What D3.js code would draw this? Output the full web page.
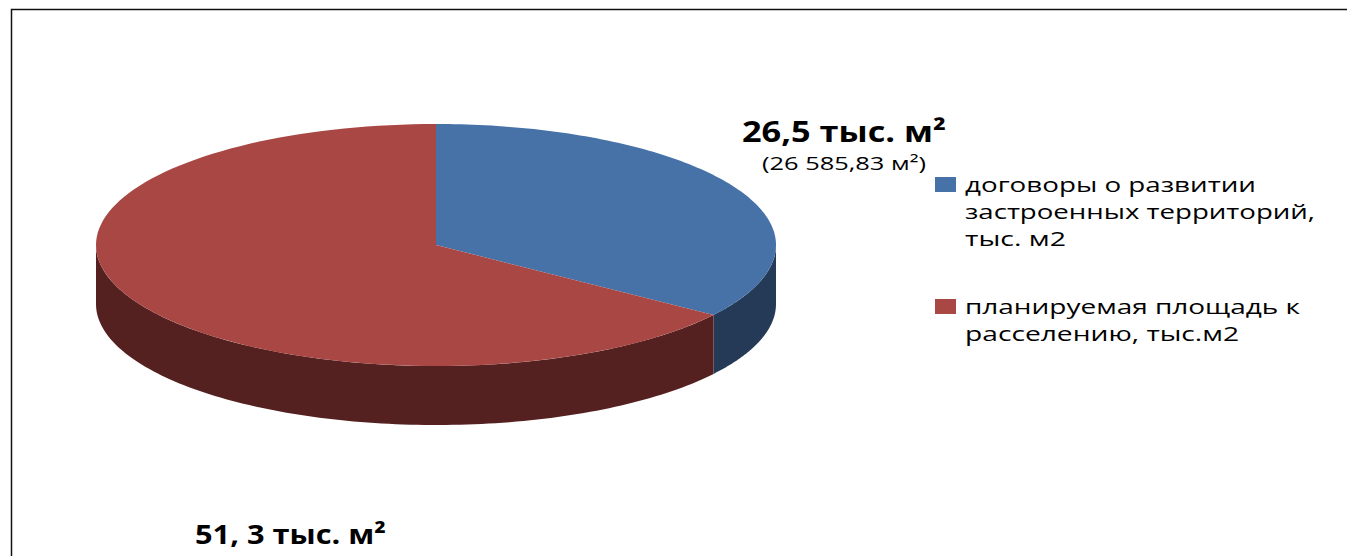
<!DOCTYPE html><html lang="ru"><head>
<meta charset="utf-8"/>
<title>Площадь к расселению</title>
<script src="https://d3js.org/d3.v7.min.js"></script>
<style>
  body {margin: 0; padding: 0; background: #fff; width: 1347px; height: 556px; overflow: hidden;}
  text {font-family: 'Open Sans', sans-serif; fill: #000;}
</style>
</head>
<body>
<svg id="chart" width="1347" height="556"></svg>
<script>
// Shares of the circle as drawn in the picture (blue slice ends at about 125 deg)
const categories = ["договоры о развитии застроенных территорий, тыс. м2", "планируемая площадь к расселению, тыс.м2"];
const shares = [34.8, 65.2];
const topColors = ["#4672a8", "#a94744"];
const sideColors = ["#243a56", "#552020"];
const legendLines = [
  ["договоры о развитии", "застроенных территорий,", "тыс. м2"],
  ["планируемая площадь к", "расселению, тыс.м2"]
];
const legendWidths = [[291, 350, 101], [335, 274]];

const svg = d3.select("#chart");

// Frame, open on the right and bottom
svg.append("path")
  .attr("d", "M11.5,556V9.5H1347")
  .attr("fill", "none")
  .attr("stroke", "#111")
  .attr("stroke-width", 1.5);

// Tilted pie: unit circle mapped on to an ellipse
const x = d3.scaleLinear().domain([-1, 1]).range([96, 776]);
const y = d3.scaleLinear().domain([-1, 1]).range([124, 366]);
const depth = 59;

const slices = d3.pie().sort(null)(shares);

const rimPoint = a => [x(Math.sin(a)), y(-Math.cos(a))];
const arcPoints = (a0, a1) => d3.range(0, 121).map(i => rimPoint(a0 + (a1 - a0) * i / 120));
const line = d3.line();

// Side walls first, only the front half of the rim shows
slices.forEach((s, i) => {
  const a0 = Math.max(s.startAngle, Math.PI / 2);
  const a1 = Math.min(s.endAngle, Math.PI * 1.5);
  if (a1 <= a0) return;
  const upper = arcPoints(a0, a1);
  const lower = upper.map(p => [p[0], p[1] + depth]).reverse();
  svg.append("path")
    .attr("d", line(upper.concat(lower)) + "Z")
    .attr("fill", sideColors[i]);
});

// Top faces
slices.forEach((s, i) => {
  const centre = [x(0), y(0)];
  svg.append("path")
    .attr("d", line([centre].concat(arcPoints(s.startAngle, s.endAngle))) + "Z")
    .attr("fill", topColors[i]);
});

// Data labels
function label(px, py, str, size, bold, width) {
  svg.append("text")
    .attr("x", px)
    .attr("y", py)
    .attr("font-size", size)
    .attr("font-weight", bold ? 700 : 400)
    .attr("textLength", width)
    .attr("lengthAdjust", "spacingAndGlyphs")
    .text(str);
}
label(742, 142, "26,5 тыс. м²", 29, true, 204);
label(762, 170, "(26 585,83 м²)", 19, false, 164);
label(195, 544, "51, 3 тыс. м²", 27, true, 191);

// Legend
const legendTop = [177, 299];
categories.forEach((c, i) => {
  svg.append("rect")
    .attr("x", 935)
    .attr("y", legendTop[i])
    .attr("width", 21)
    .attr("height", 15)
    .attr("fill", topColors[i]);
  legendLines[i].forEach((t, j) => {
    label(965, legendTop[i] + 15 + j * 27, t, 20, false, legendWidths[i][j]);
  });
});
</script>
</body></html>
